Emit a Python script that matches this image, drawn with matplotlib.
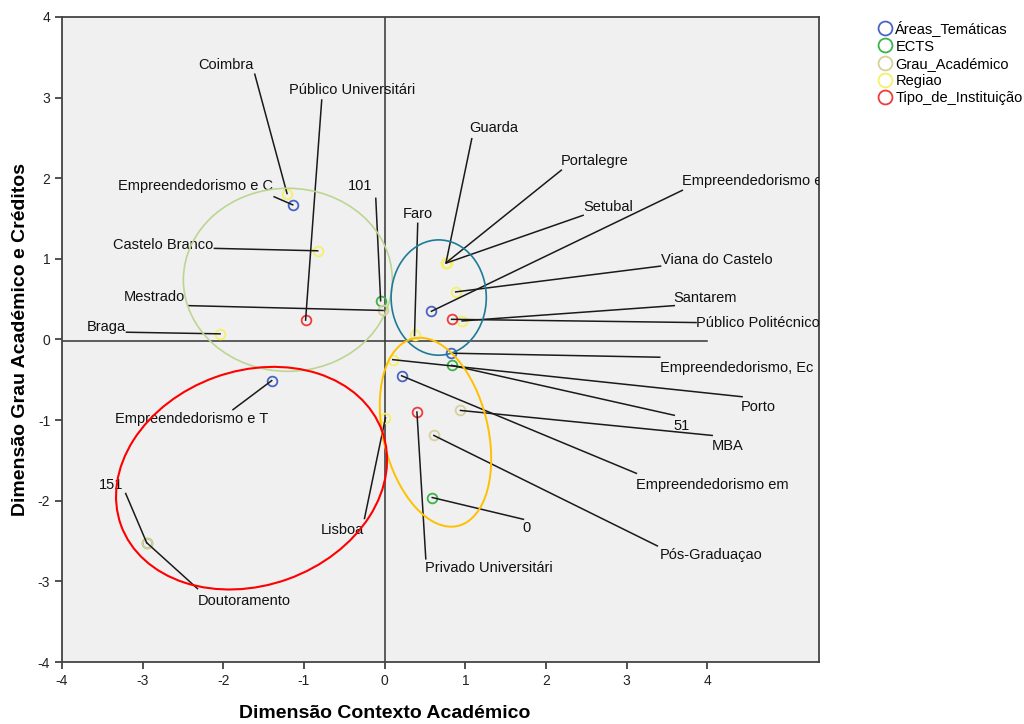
import numpy as np
import matplotlib.pyplot as plt
from matplotlib.patches import Ellipse
from matplotlib.lines import Line2D

plt.rcParams['font.family'] = ['Liberation Sans', 'DejaVu Sans']
plt.rcParams['axes.unicode_minus'] = False

# Pontos das categorias (coordenadas nas duas dimensões)
areas_names = ['Empreendedorismo e C', 'Empreendedorismo e I', 'Empreendedorismo, Ec',
               'Empreendedorismo em ', 'Empreendedorismo e T']
areas_x = [-1.14, 0.58, 0.82, 0.21, -1.40]
areas_y = [1.67, 0.35, -0.17, -0.45, -0.51]

ects_names = ['101', '51', '0', '151']
ects_x = [-0.05, 0.83, 0.59, -2.95]
ects_y = [0.48, -0.32, -1.96, -2.52]

grau_names = ['Mestrado', 'MBA', 'Pós-Graduaçao', 'Doutoramento']
grau_x = [-0.02, 0.94, 0.61, -2.95]
grau_y = [0.36, -0.88, -1.19, -2.52]

regiao_names = ['Coimbra', 'Castelo Branco', 'Braga', 'Faro', 'Guarda', 'Portalegre',
                'Setubal', 'Viana do Castelo', 'Santarem', 'Lisboa', 'Porto']
regiao_x = [-1.21, -0.83, -2.04, 0.37, 0.76, 0.76, 0.77, 0.88, 0.96, 0.01, 0.10]
regiao_y = [1.81, 1.10, 0.07, 0.05, 0.95, 0.95, 0.95, 0.59, 0.23, -0.97, -0.25]

tipo_names = ['Público Universitári', 'Público Politécnico', 'Privado Universitári']
tipo_x = [-0.98, 0.83, 0.40]
tipo_y = [0.24, 0.25, -0.90]

groups = [('Áreas_Temáticas', areas_names, areas_x, areas_y, '#4864c4'),
          ('ECTS', ects_names, ects_x, ects_y, '#3cb44b'),
          ('Grau_Académico', grau_names, grau_x, grau_y, '#d6d09a'),
          ('Regiao', regiao_names, regiao_x, regiao_y, '#f5f06a'),
          ('Tipo_de_Instituição', tipo_names, tipo_x, tipo_y, '#ee3b3b')]

# posição dos rótulos: texto (x, y, ha) e fim da linha guia (x, y)
LABELS = {
    'Empreendedorismo e C': (-1.39, 1.90, 'right', -1.37, 1.77),
    'Empreendedorismo e I': (3.69, 1.96, 'left', 3.69, 1.85),
    'Empreendedorismo, Ec': (3.41, -0.35, 'left', 3.41, -0.22),
    'Empreendedorismo em ': (3.12, -1.80, 'left', 3.12, -1.66),
    'Empreendedorismo e T': (-3.34, -0.99, 'left', -1.88, -0.87),
    '101': (-0.30, 1.90, 'center', -0.11, 1.75),
    '51': (3.68, -1.07, 'center', 3.59, -0.94),
    '0': (1.76, -2.34, 'center', 1.72, -2.23),
    '151': (-3.39, -1.81, 'center', -3.21, -1.91),
    'Mestrado': (-2.48, 0.53, 'right', -2.44, 0.42),
    'MBA': (4.06, -1.32, 'left', 4.06, -1.19),
    'Pós-Graduaçao': (3.41, -2.67, 'left', 3.38, -2.56),
    'Doutoramento': (-2.32, -3.24, 'left', -2.32, -3.09),
    'Coimbra': (-1.97, 3.41, 'center', -1.61, 3.29),
    'Castelo Branco': (-2.13, 1.17, 'right', -2.11, 1.13),
    'Braga': (-3.21, 0.15, 'right', -3.20, 0.09),
    'Faro': (0.41, 1.56, 'center', 0.41, 1.44),
    'Guarda': (1.05, 2.62, 'left', 1.08, 2.49),
    'Portalegre': (2.18, 2.21, 'left', 2.19, 2.10),
    'Setubal': (2.46, 1.64, 'left', 2.46, 1.54),
    'Viana do Castelo': (3.42, 0.99, 'left', 3.42, 0.91),
    'Santarem': (3.58, 0.52, 'left', 3.59, 0.42),
    'Lisboa': (-0.26, -2.36, 'right', -0.25, -2.22),
    'Porto': (4.42, -0.84, 'left', 4.43, -0.71),
    'Público Universitári': (-1.19, 3.10, 'left', -0.78, 2.97),
    'Público Politécnico': (3.86, 0.21, 'left', 3.86, 0.21),
    'Privado Universitári': (0.50, -2.83, 'left', 0.51, -2.72),
}

# elipses de agrupamento: centro, largura, altura, ângulo, cor, espessura
ELLIPSES = [((-1.20, 0.74), 2.59, 2.27, 0, '#bcd692', 1.2),
            ((0.67, 0.52), 1.18, 1.43, 0, '#1e7b96', 1.2),
            ((0.63, -1.15), 1.30, 2.39, 13.5, '#ffc000', 1.4),
            ((-1.65, -1.72), 3.44, 2.66, 19.8, '#ff0000', 1.5)]

# %%
fig = plt.figure(figsize=(10.24, 7.24), dpi=100)
ax = fig.add_axes([0.0605, 0.0856, 0.739, 0.891])
ax.set_facecolor('#f0f0f0')

ax.axvline(0, color='#333333', lw=1.1, zorder=1)
ax.plot([-4, 4], [-0.015, -0.015], color='#333333', lw=1.1, zorder=1)

handles = []
for name, labels, xs, ys, col in groups:
    ax.plot(xs, ys, 'o', mfc='none', mec=col, ms=7, mew=1.3, zorder=3)
    handles.append(Line2D([], [], marker='o', ls='none', mfc='none', mec=col,
                          ms=10, mew=1.3, label=name))
    for lab, px, py in zip(labels, xs, ys):
        tx, ty, ha, lx, ly = LABELS[lab]
        ax.plot([px, lx], [py, ly], color='#1a1a1a', lw=1.1, zorder=4)
        ax.text(tx, ty, lab.rstrip(), ha=ha, va='center', fontsize=10.5,
                color='#111111', clip_on=True, zorder=5)

for (cx, cy), w, h, ang, col, lw in ELLIPSES:
    ax.add_patch(Ellipse((cx, cy), w, h, angle=ang, fill=False, ec=col, lw=lw, zorder=6))

ax.set_xlim(-4, 5.38)
ax.set_ylim(-4, 4)
ax.set_xticks(np.arange(-4, 5))
ax.set_yticks(np.arange(-4, 5))
ax.tick_params(direction='out', length=5, width=1.1, labelsize=10, colors='#222222')
for s in ax.spines.values():
    s.set_color('#444444')
    s.set_linewidth(1.3)

ax.set_xlabel('Dimensão Contexto Académico', fontsize=14, fontweight='bold')
ax.xaxis.set_label_coords(0.427, -0.066)
ax.set_ylabel('Dimensão Grau Académico e Créditos', fontsize=14, fontweight='bold')
ax.yaxis.set_label_coords(-0.044, 0.5)

fig.legend(handles=handles, loc='upper left', bbox_to_anchor=(0.853, 0.98),
           frameon=False, fontsize=10.5, handlelength=0.8, handletextpad=0.3,
           labelspacing=0.22, borderaxespad=0)

plt.savefig('out.png', dpi=100)
